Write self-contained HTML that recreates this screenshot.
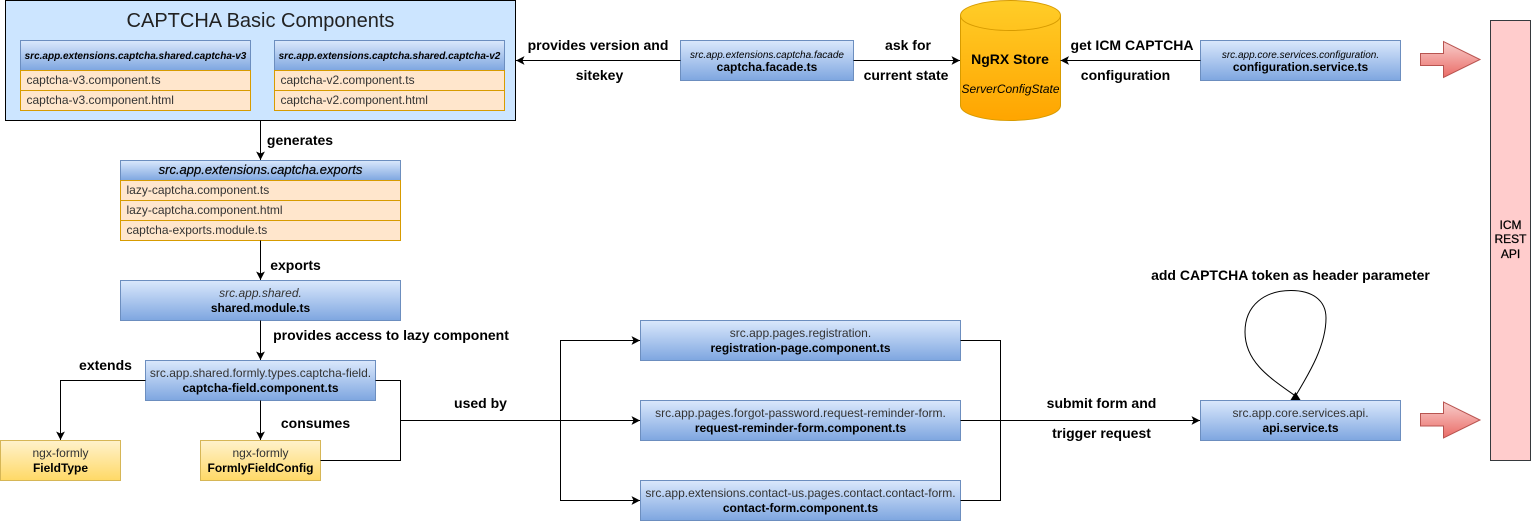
<!DOCTYPE html>
<html><head><meta charset="utf-8"><style>
html,body{margin:0;padding:0;background:#fff}
svg{display:block}
text{font-family:"Liberation Sans",Arial,sans-serif;fill:#000;font-size:12px}
.m{text-anchor:middle}
.b{font-weight:bold}
.i{font-style:italic}
.l{font-weight:bold;font-size:14px;text-anchor:middle}
.h{font-weight:bold;font-style:italic;font-size:10px;text-anchor:middle}
.s{font-style:italic;font-size:10px;text-anchor:middle}
.g{fill:#333}
.bl{fill:url(#blue);stroke:#6c8ebf}
.ye{fill:url(#yel);stroke:#d6b656}
.or{fill:#ffe6cc;stroke:#d79b00}
.c{fill:none;stroke:#000;stroke-width:1}
.a{marker-end:url(#arr)}
</style></head><body>
<svg width="1531" height="521" viewBox="0 0 1531 521" xmlns="http://www.w3.org/2000/svg">
<defs>
<linearGradient id="blue" x1="0" y1="0" x2="0" y2="1"><stop offset="0" stop-color="#dae8fc"/><stop offset="1" stop-color="#7ea6e0"/></linearGradient>
<linearGradient id="yel" x1="0" y1="0" x2="0" y2="1"><stop offset="0" stop-color="#fff2cc"/><stop offset="1" stop-color="#ffd966"/></linearGradient>
<linearGradient id="red" x1="0" y1="0" x2="0" y2="1"><stop offset="0" stop-color="#f8cecc"/><stop offset="1" stop-color="#ea6b66"/></linearGradient>
<linearGradient id="cyl" x1="0" y1="0" x2="0" y2="1"><stop offset="0" stop-color="#ffcd28"/><stop offset="1" stop-color="#ffa500"/></linearGradient>
<marker id="arr" markerUnits="userSpaceOnUse" markerWidth="10" markerHeight="10" refX="9" refY="5" orient="auto"><path d="M9 5L0.5 0.6L2.500 5L0.5 9.4z" fill="#000"/></marker>
</defs>

<rect x="5.5" y="0.5" width="510" height="120" fill="#cce5ff" stroke="#000"/>
<text x="260.500" y="27" class="m" style="font-size:20px;fill:#222">CAPTCHA Basic Components</text>

<rect x="20.500" y="40.500" width="230" height="30" class="bl"/>
<text x="135.500" y="59" class="h">src.app.extensions.captcha.shared.captcha-v3</text>
<rect x="20.500" y="70.500" width="230" height="20" class="or"/>
<rect x="20.500" y="90.500" width="230" height="20" class="or"/>
<text x="26.500" y="84" class="g">captcha-v3.component.ts</text>
<text x="26.500" y="104" class="g">captcha-v3.component.html</text>

<rect x="274.500" y="40.500" width="230" height="30" class="bl"/>
<text x="389.500" y="59" class="h">src.app.extensions.captcha.shared.captcha-v2</text>
<rect x="274.500" y="70.500" width="230" height="20" class="or"/>
<rect x="274.500" y="90.500" width="230" height="20" class="or"/>
<text x="280.500" y="84" class="g">captcha-v2.component.ts</text>
<text x="280.500" y="104" class="g">captcha-v2.component.html</text>

<rect x="120.500" y="160.500" width="280" height="20" class="bl"/>
<text x="260.500" y="174" class="m i" style="font-size:13px;stroke:#000;stroke-width:.2">src.app.extensions.captcha.exports</text>
<rect x="120.500" y="180.500" width="280" height="20" class="or"/>
<rect x="120.500" y="200.500" width="280" height="20" class="or"/>
<rect x="120.500" y="220.500" width="280" height="20" class="or"/>
<text x="126.500" y="194" class="g">lazy-captcha.component.ts</text>
<text x="126.500" y="214" class="g">lazy-captcha.component.html</text>
<text x="126.500" y="234" class="g">captcha-exports.module.ts</text>

<rect x="120.500" y="280.500" width="280" height="40" class="bl"/>
<text x="260.500" y="297" class="m i g">src.app.shared.</text>
<text x="260.500" y="312" class="m b">shared.module.ts</text>

<rect x="145.500" y="360.500" width="230" height="40" class="bl"/>
<text x="260.500" y="377" class="m g">src.app.shared.formly.types.captcha-field.</text>
<text x="260.500" y="392" class="m b">captcha-field.component.ts</text>

<rect x="0.500" y="440.500" width="120" height="40" class="ye"/>
<text x="60.500" y="457" class="m g">ngx-formly</text>
<text x="60.500" y="472" class="m b">FieldType</text>

<rect x="200.500" y="440.500" width="120" height="40" class="ye"/>
<text x="260.500" y="457" class="m g">ngx-formly</text>
<text x="260.500" y="472" class="m b">FormlyFieldConfig</text>

<rect x="680.500" y="40.500" width="173" height="40" class="bl"/>
<text x="767" y="58" class="s">src.app.extensions.captcha.facade</text>
<text x="767" y="71" class="m b">captcha.facade.ts</text>

<path d="M960.500 15.500C960.500 7 982.500 0.500 1010.500 0.500C1038.500 0.500 1060.500 7 1060.500 15.500V105.500C1060.500 114 1038.500 120.500 1010.500 120.500C982.500 120.500 960.500 114 960.500 105.500Z" fill="url(#cyl)" stroke="#d79b00"/>
<path d="M960.500 15.500C960.500 24 982.500 30.500 1010.500 30.500C1038.500 30.500 1060.500 24 1060.500 15.500" fill="none" stroke="#d79b00"/>
<text x="1010" y="64" class="m b" style="font-size:14px">NgRX Store</text>
<text x="1010.500" y="93" class="m i">ServerConfigState</text>

<rect x="1200.500" y="40.500" width="200" height="40" class="bl"/>
<text x="1300.500" y="58" class="s">src.app.core.services.configuration.</text>
<text x="1300.500" y="71" class="m b">configuration.service.ts</text>

<rect x="640.500" y="320.500" width="320" height="40" class="bl"/>
<text x="800.500" y="337" class="m g">src.app.pages.registration.</text>
<text x="800.500" y="352" class="m b">registration-page.component.ts</text>

<rect x="640.500" y="400.500" width="320" height="40" class="bl"/>
<text x="800.500" y="417" class="m g">src.app.pages.forgot-password.request-reminder-form.</text>
<text x="800.500" y="432" class="m b">request-reminder-form.component.ts</text>

<rect x="640.500" y="480.500" width="320" height="40" class="bl"/>
<text x="800.500" y="497" class="m g">src.app.extensions.contact-us.pages.contact.contact-form.</text>
<text x="800.500" y="512" class="m b">contact-form.component.ts</text>

<rect x="1200.500" y="400.500" width="200" height="40" class="bl"/>
<text x="1300.500" y="417" class="m g">src.app.core.services.api.</text>
<text x="1300.500" y="432" class="m b">api.service.ts</text>

<rect x="1490.500" y="20.500" width="40" height="440" fill="#ffcccc" stroke="#36393d"/>
<text x="1510.500" y="229" class="m" style="stroke:#000;stroke-width:.25">ICM</text>
<text x="1510.500" y="243" class="m" style="stroke:#000;stroke-width:.25">REST</text>
<text x="1510.500" y="258" class="m" style="stroke:#000;stroke-width:.25">API</text>

<path d="M1420.500 53.500H1443.500V41.500L1480 59.500L1443.500 77.500V65.500H1420.500Z" fill="url(#red)" stroke="#b85450"/>
<path d="M1420.500 413.500H1443.500V402L1480 420L1443.500 438V426H1420.500Z" fill="url(#red)" stroke="#b85450"/>

<path class="c a" d="M260.500 120.500V160"/>
<path class="c a" d="M260.500 240.500V280"/>
<path class="c a" d="M260.500 320.500V360"/>
<path class="c a" d="M260.500 400.500V440"/>
<path class="c a" d="M145.500 380.500H60.500V440"/>
<path class="c" d="M375.500 380.500H400.500V460.500H320.500"/>
<path class="c" d="M400.500 420.500H560.500"/>
<path class="c a" d="M560.500 420.500H640"/>
<path class="c a" d="M560.500 420.500V340.500H640"/>
<path class="c a" d="M560.500 420.500V500.500H640"/>
<path class="c" d="M960.500 340.500H1000.500V500.500H960.500"/>
<path class="c a" d="M960.500 420.500H1200"/>
<path class="c a" d="M680.500 60.500H516"/>
<path class="c a" d="M853.500 60.500H960"/>
<path class="c a" d="M1200.500 60.500H1060.500"/>
<path class="c" d="M1295.500 396C1270 378 1245 362 1245 332C1245 305 1265 290.500 1291 290.500C1312 290.500 1326 300 1326 318C1326 345 1310 372 1295.500 396"/>
<path d="M1295.500 392L1300.500 400H1290.500Z" fill="#000"/>

<text x="300" y="145" class="l">generates</text>
<text x="295.500" y="270" class="l">exports</text>
<text x="391" y="340" class="l">provides access to lazy component</text>
<text x="105.500" y="370" class="l">extends</text>
<text x="315.500" y="428" class="l">consumes</text>
<text x="480.500" y="408" class="l">used by</text>
<text x="598" y="50" class="l">provides version and</text>
<text x="599.500" y="80" class="l">sitekey</text>
<text x="908" y="50" class="l">ask for</text>
<text x="906" y="80" class="l">current state</text>
<text x="1132" y="50" class="l">get ICM CAPTCHA</text>
<text x="1125.500" y="80" class="l">configuration</text>
<text x="1101.500" y="408" class="l">submit form and</text>
<text x="1101.500" y="438" class="l">trigger request</text>
<text x="1290.500" y="280" class="l">add CAPTCHA token as header parameter</text>
</svg>
</body></html>
